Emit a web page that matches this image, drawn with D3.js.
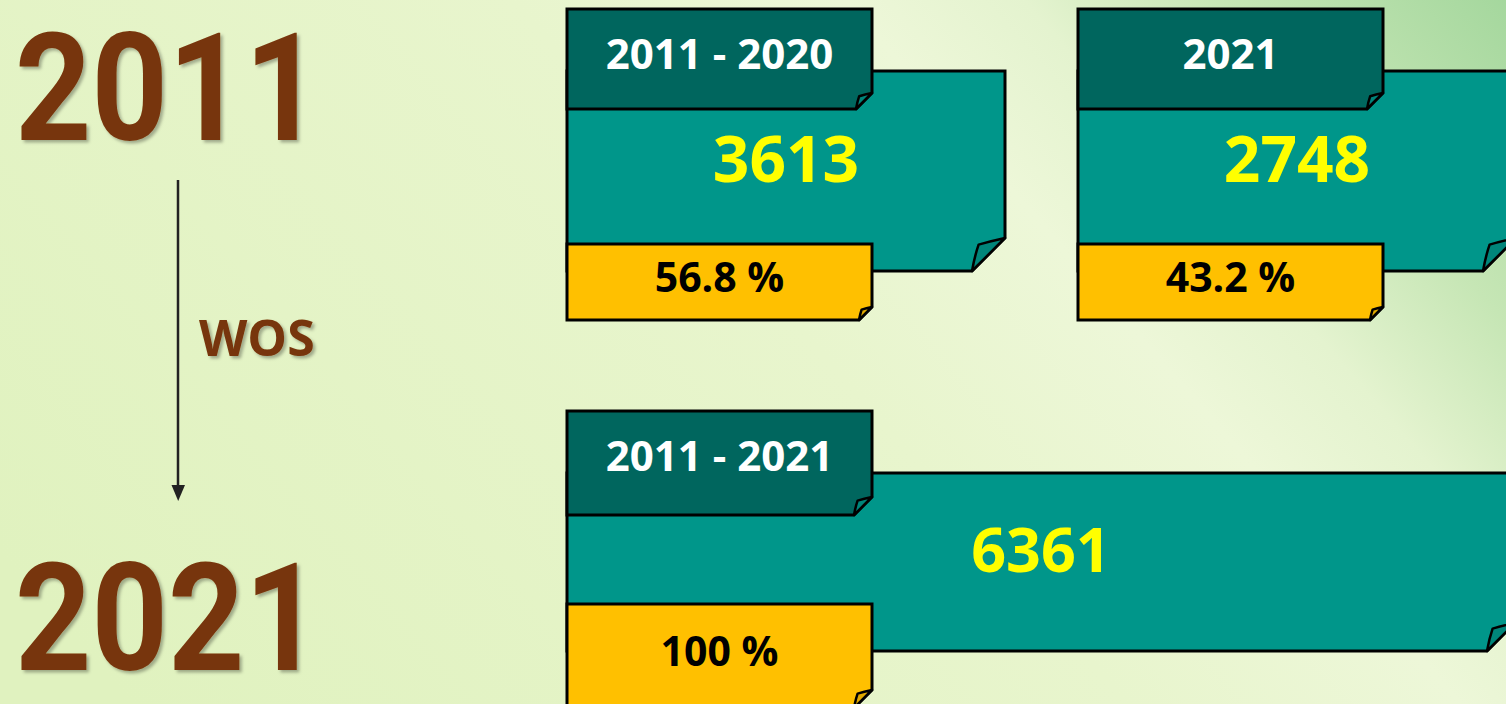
<!DOCTYPE html>
<html><head><meta charset="utf-8">
<script src="https://cdn.jsdelivr.net/npm/d3@7/dist/d3.min.js"></script>
<style>html,body{margin:0;padding:0;overflow:hidden;background:#e6f4c8}</style>
</head><body>
<script>
// ---- data ----
const periods = ["2011 - 2020", "2021", "2011 - 2021"];
const counts = [3613, 2748, 6361];
const shares = ["56.8 %", "43.2 %", "100 %"];
const yearLabels = ["2011", "2021"];
const sourceLabel = "WOS";

const W = 1506, H = 704;
const svg = d3.select("body").append("svg").attr("width", W).attr("height", H);
const defs = svg.append("defs");

const bg = defs.append("linearGradient").attr("id", "bg")
  .attr("gradientUnits", "userSpaceOnUse")
  .attr("x1", 300).attr("y1", 900).attr("x2", 1560).attr("y2", -200);
[[0, "#e0f2bf"], [0.45, "#e8f5cd"], [0.6, "#edf7d8"], [0.68, "#e4f3cf"], [0.77, "#c6e6b5"], [0.9, "#a4d79d"], [1, "#96cf93"]]
  .forEach(([o, c]) => bg.append("stop").attr("offset", o).attr("stop-color", c));
svg.append("rect").attr("width", W).attr("height", H).attr("fill", "url(#bg)");

const sh = defs.append("filter").attr("id", "shadow").attr("x", "-10%").attr("y", "-10%").attr("width", "130%").attr("height", "130%");
sh.append("feDropShadow").attr("dx", 2.5).attr("dy", 2.5).attr("stdDeviation", 1.5)
  .attr("flood-color", "#000").attr("flood-opacity", 0.3);

const BROWN = "#77350a", DARK = "#00665e", TEAL = "#00968a", GOLD = "#ffc000", YEL = "#ffff00";
const FONT = "'Open Sans', 'DejaVu Sans', sans-serif";

// ---- left timeline ----
const yYear = d3.scalePoint().domain(yearLabels).range([140, 670]);
svg.selectAll("text.year").data(yearLabels).join("text")
  .attr("class", "year")
  .attr("x", 15).attr("y", d => yYear(d))
  .attr("font-family", "Roboto, 'Liberation Sans', sans-serif")
  .attr("font-weight", 700).attr("font-size", 150)
  .attr("textLength", 306).attr("lengthAdjust", "spacingAndGlyphs")
  .attr("fill", BROWN).attr("filter", "url(#shadow)")
  .text(d => d);

svg.append("line").attr("x1", 178).attr("x2", 178).attr("y1", 180).attr("y2", 488)
  .attr("stroke", "#222").attr("stroke-width", 2.5);
svg.append("path").attr("d", "M171.5,485 L185,485 L178.2,501 Z").attr("fill", "#222");
svg.append("text").attr("x", 199).attr("y", 356)
  .attr("font-family", FONT).attr("font-weight", "bold").attr("font-size", 50)
  .attr("fill", BROWN).attr("filter", "url(#shadow)").text(sourceLabel);

// ---- cards ----
const xCard = d3.scalePoint().domain(periods.slice(0, 2)).range([567, 1078]);
const yRow = d3.scaleOrdinal().domain(["part", "total"]).range([9, 411]);

const cards = periods.map((p, i) => {
  const total = i === 2;
  const x0 = total ? xCard(periods[0]) : xCard(p);
  const y0 = total ? yRow("total") : yRow("part");
  return {
    label: p, value: counts[i], share: shares[i], x0, y0,
    head: {w: 305, h: total ? 104 : 100, f: total ? 18 : 16},
    mid: {dy: 62, w: total ? 948 : 438, h: total ? 178 : 200, f: total ? 28 : 33},
    gold: {dy: total ? 193 : 235, h: total ? 104 : 76, f: total ? 18 : 13},
    valueSize: total ? 61 : 64
  };
});

function foldedRect(g, x, y, w, h, f, fill, flapFill) {
  const R = x + w, B = y + h;
  g.append("path")
    .attr("d", `M${x},${y} L${R},${y} L${R},${B - f} L${R - f},${B} L${x},${B} Z`)
    .attr("fill", fill).attr("stroke", "#000").attr("stroke-width", 3).attr("stroke-linejoin", "miter");
  const ix = R - 0.8 * f, iy = B - 0.8 * f;
  g.append("path")
    .attr("d", `M${R},${B - f} Q${R - 0.45 * f},${B - 0.9 * f} ${ix},${iy} Q${R - 0.92 * f},${B - 0.45 * f} ${R - f},${B} Z`)
    .attr("fill", flapFill).attr("stroke", "#000").attr("stroke-width", 2.5).attr("stroke-linejoin", "round");
}

const g = svg.selectAll("g.card").data(cards).join("g").attr("class", "card");
g.each(function (d) {
  const s = d3.select(this);
  const mTop = d.y0 + d.mid.dy;
  foldedRect(s, d.x0, mTop, d.mid.w, d.mid.h, d.mid.f, TEAL, "#00857a");
  foldedRect(s, d.x0, d.y0, d.head.w, d.head.h, d.head.f, DARK, "#00857a");
  const gTop = d.y0 + d.gold.dy;
  foldedRect(s, d.x0, gTop, d.head.w, d.gold.h, d.gold.f, GOLD, "#e0a800");

  s.append("text").attr("x", d.x0 + d.head.w / 2).attr("y", d.y0 + 60)
    .attr("text-anchor", "middle").attr("font-family", FONT).attr("font-weight", "bold")
    .attr("font-size", 42).attr("fill", "#fff").text(d.label);

  const capH = d.valueSize * 0.714;
  s.append("text").attr("x", d.x0 + d.mid.w / 2).attr("y", mTop + d.mid.h / 2 + capH / 2 - 12)
    .attr("text-anchor", "middle").attr("font-family", FONT).attr("font-weight", "bold")
    .attr("font-size", d.valueSize).attr("fill", YEL).text(d3.format("d")(d.value));

  s.append("text").attr("x", d.x0 + d.head.w / 2).attr("y", gTop + d.gold.h / 2 + 10)
    .attr("text-anchor", "middle").attr("font-family", FONT).attr("font-weight", "bold")
    .attr("font-size", 41).attr("fill", "#000").text(d.share);
});
</script>
</body></html>
